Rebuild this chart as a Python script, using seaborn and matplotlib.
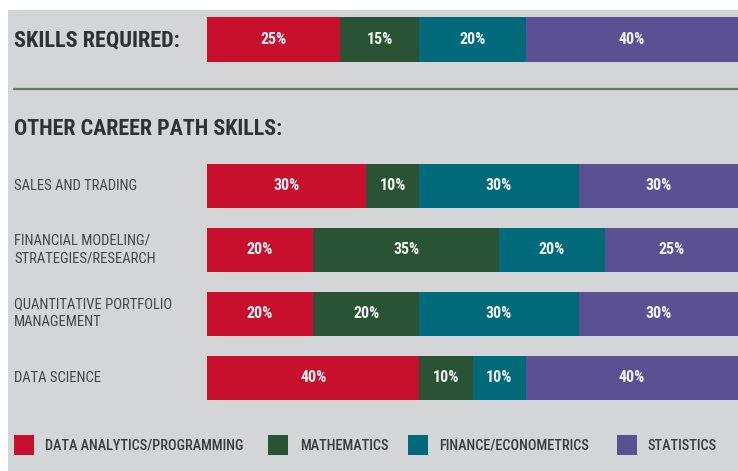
import matplotlib
matplotlib.use("Agg")
import matplotlib.pyplot as plt
import matplotlib.font_manager as fm
import matplotlib.transforms as mtrans
import seaborn as sns
import pandas as pd
from matplotlib.patches import Rectangle
from matplotlib.lines import Line2D

# ---- data ----
skills = ["DATA ANALYTICS/PROGRAMMING", "MATHEMATICS", "FINANCE/ECONOMETRICS", "STATISTICS"]
required = [25, 15, 20, 40]
roles = ["SALES AND TRADING", "FINANCIAL MODELING/\nSTRATEGIES/RESEARCH",
         "QUANTITATIVE PORTFOLIO\nMANAGEMENT", "DATA SCIENCE"]
data_analytics = [30, 20, 20, 40]
mathematics = [10, 35, 20, 10]
finance = [30, 20, 30, 10]
statistics = [30, 25, 30, 40]
colors = ["#c8102e", "#2a5234", "#006a7a", "#5b5192"]

sns.set_theme(style="white")

names = {f.name for f in fm.fontManager.ttflist}
dj_cond = any(f.name == "DejaVu Sans" and "condensed" in str(f.stretch) for f in fm.fontManager.ttflist)
STRETCH = "normal"
if "Roboto Condensed" in names:
    FAM = "Roboto Condensed"
elif "Liberation Sans Narrow" in names:
    FAM = "Liberation Sans Narrow"
elif dj_cond:
    FAM = "DejaVu Sans"
    STRETCH = "condensed"
else:
    FAM = "Roboto"
plt.rcParams["font.family"] = [FAM, "DejaVu Sans"]
plt.rcParams["font.stretch"] = STRETCH

W, H = 738, 471
fig = plt.figure(figsize=(W / 100, H / 100), dpi=100)
fig.patch.set_facecolor("white")
BG = "#d4d5d7"
fig.patches.append(Rectangle((8 / W, 0), 1, 1 - 10 / H, transform=fig.transFigure,
                             facecolor=BG, edgecolor="none", zorder=-5))

def fx(px):
    return px / W

def fy(py):
    return 1 - py / H

BAR_X0, BAR_W = 207, 531

def stacked(ax, labels, series):
    df = pd.DataFrame({"role": labels})
    cums = []
    run = [0] * len(labels)
    for s in series:
        run = [a + b for a, b in zip(run, s)]
        cums.append(list(run))
    for k in reversed(range(len(series))):
        df["c"] = cums[k]
        sns.barplot(data=df, x="c", y="role", orient="h", color=colors[k], saturation=1,
                    width=0.6875 if len(labels) > 1 else 1.0, linewidth=0, ax=ax)
    for i in range(len(labels)):
        left = 0
        for k, s in enumerate(series):
            v = s[i]
            ax.text(left + v / 2, i, f"{v}%", ha="center", va="center", color="#f2f2f2",
                    fontsize=11.5, fontweight="bold")
            left += v
    ax.set_xlim(0, 100)
    ax.set_axis_off()

# top bar
ax1 = fig.add_axes([fx(BAR_X0), fy(62), BAR_W / W, 45 / H])
stacked(ax1, ["SKILLS REQUIRED"], [[v] for v in required])
ax1.set_ylim(0.5, -0.5)

# lower bars
ax2 = fig.add_axes([fx(BAR_X0), fy(409.5), BAR_W / W, 256 / H])
stacked(ax2, roles, [data_analytics, mathematics, finance, statistics])
ax2.set_ylim(3.5, -0.5)

# headings
fig.text(fx(14), fy(40), "SKILLS REQUIRED:", fontsize=16, fontweight="bold",
         color="#303133", ha="left", va="center")
fig.text(fx(14), fy(129), "OTHER CAREER PATH SKILLS:", fontsize=15.8, fontweight="bold",
         color="#303133", ha="left", va="center")
fig.lines.append(Line2D([fx(14), 1], [fy(89), fy(89)], transform=fig.transFigure,
                        color="#66786b", linewidth=1.6))

# category labels
tr = mtrans.blended_transform_factory(fig.transFigure, ax2.transData)
for i, r in enumerate(roles):
    ax2.text(fx(14), i, r, transform=tr, ha="left", va="center", fontsize=10.5,
             color="#444547", linespacing=1.35, clip_on=False)

# legend
sq_x = [14, 268, 408, 617]
tx_x = [45, 300, 439, 648]
for k, name in enumerate(skills):
    fig.patches.append(Rectangle((fx(sq_x[k]), fy(455)), 20 / W, 20 / H,
                                 transform=fig.transFigure, facecolor=colors[k],
                                 edgecolor="none"))
    fig.text(fx(tx_x[k]), fy(446), name, fontsize=10.3, color="#3a3b3d",
             fontweight="medium", ha="left", va="center")

fig.savefig("out.png", dpi=100)
